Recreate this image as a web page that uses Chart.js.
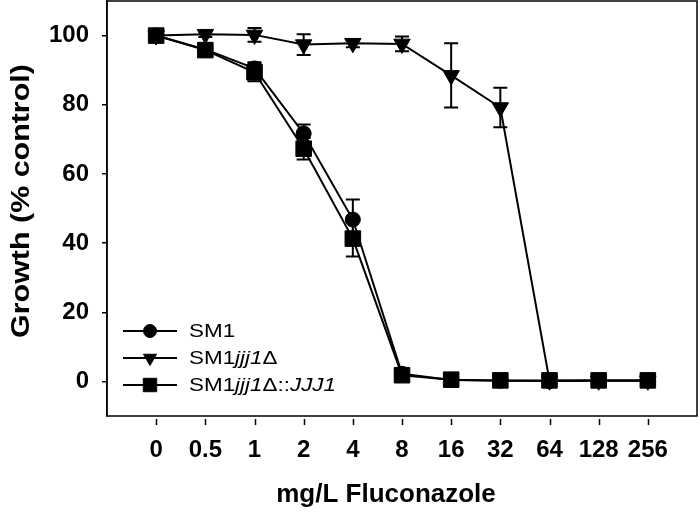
<!DOCTYPE html>
<html>
<head>
<meta charset="utf-8">
<script src="https://cdn.jsdelivr.net/npm/chart.js@4.4.1/dist/chart.umd.min.js"></script>
<style>
  body { margin: 0; background: #fff; }
  canvas { display: block; }
</style>
</head>
<body>
<canvas id="growthChart" width="700" height="516"></canvas>
<script>
// Fluconazole concentrations (mg/L), plotted at evenly spaced positions
const doses = ["0", "0.5", "1", "2", "4", "8", "16", "32", "64", "128", "256"];
const yTicks = [0, 20, 40, 60, 80, 100];

// Growth (% control)
const sm1 = [100, 96, 90.5, 71.7, 46.8, 2.2, 0.4, 0.2, 0.1, 0.3, 0.3];
const sm1Err = [0.6, 1, 1.8, 2.6, 5.8, 0, 0, 0, 0, 0, 0];
const jjj1 = [100, 100.4, 100.2, 97.4, 97.8, 97.6, 88.5, 79.2, 0.2, 0.2, 0.2];
const jjj1Err = [0, 0.8, 2, 3, 1.2, 2.1, 9.3, 5.7, 0, 0, 0];
const comp = [100, 95.8, 89.4, 67.3, 41.3, 1.8, 0.5, 0.3, 0.3, 0.3, 0.3];
const compErr = [0, 1, 2.6, 3.1, 5.2, 0, 0, 0, 0, 0, 0];

// legend names, <i>..</i> marks the italic gene names
const seriesNames = ["SM1", "SM1<i>jjj1</i>Δ", "SM1<i>jjj1</i>Δ::<i>JJJ1</i>"];
const xTitle = "mg/L Fluconazole";
const yTitle = "Growth (% control)";

const FONT = "'Liberation Sans', Arial, sans-serif";
const toPoints = arr => arr.map((v, i) => ({ x: i, y: v }));

/* error bars drawn through the scales */
const errorBars = {
  id: "errorBars",
  afterDatasetsDraw(chart) {
    const { ctx, scales: { x, y } } = chart;
    ctx.save();
    ctx.strokeStyle = "#000";
    ctx.lineWidth = 2;
    chart.data.datasets.forEach(ds => {
      (ds.errors || []).forEach((e, i) => {
        if (!e) return;
        const px = x.getPixelForValue(i);
        const top = y.getPixelForValue(ds.data[i].y + e);
        const bot = y.getPixelForValue(ds.data[i].y - e);
        ctx.beginPath();
        ctx.moveTo(px, top); ctx.lineTo(px, bot);
        ctx.moveTo(px - 7, top); ctx.lineTo(px + 7, top);
        ctx.moveTo(px - 7, bot); ctx.lineTo(px + 7, bot);
        ctx.stroke();
      });
    });
    ctx.restore();
  }
};

/* box round the plot, detached x tick marks, axis titles */
const frame = {
  id: "frame",
  afterDraw(chart) {
    const { ctx, chartArea: a, scales: { x } } = chart;
    ctx.save();
    ctx.strokeStyle = "#000";
    ctx.lineWidth = 1.5;
    ctx.strokeRect(a.left, a.top, a.right - a.left, a.bottom - a.top);
    ctx.beginPath();
    doses.forEach((d, i) => {
      const px = Math.round(x.getPixelForValue(i)) + 0.5;
      ctx.moveTo(px, a.bottom + 3);
      ctx.lineTo(px, a.bottom + 9);
    });
    ctx.stroke();

    ctx.fillStyle = "#000";
    ctx.textAlign = "center";
    ctx.textBaseline = "middle";
    ctx.font = "bold 26px " + FONT;
    ctx.fillText(xTitle, 386, 495);

    ctx.translate(22, 201);
    ctx.rotate(-Math.PI / 2);
    ctx.scale(1.17, 1);
    ctx.font = "bold 26px " + FONT;
    ctx.fillText(yTitle, 0, 0);
    ctx.restore();
  }
};

/* legend with italic parts */
const richLegend = {
  id: "richLegend",
  afterDraw(chart) {
    const { ctx } = chart;
    const rows = [331, 358, 385];
    const sizes = [6.5, 7.5, 9.5];
    ctx.save();
    chart.data.datasets.forEach((ds, k) => {
      const yy = rows[k];
      ctx.strokeStyle = "#000";
      ctx.fillStyle = "#000";
      ctx.lineWidth = 2;
      ctx.beginPath();
      ctx.moveTo(123, yy); ctx.lineTo(177, yy);
      ctx.stroke();
      ctx.lineWidth = 1;
      Chart.helpers.drawPoint(ctx, {
        pointStyle: ds.pointStyle, radius: sizes[k], rotation: ds.pointRotation || 0, borderWidth: 1
      }, 150, yy);
      ctx.save();
      ctx.translate(189, yy + 1);
      ctx.scale(1.18, 1);
      ctx.textBaseline = "middle";
      let tx = 0;
      seriesNames[k].split(/(<i>.*?<\/i>)/).filter(Boolean).forEach(part => {
        const it = part.startsWith("<i>");
        const txt = part.replace(/<\/?i>/g, "");
        ctx.font = (it ? "italic " : "") + "19px " + FONT;
        ctx.fillText(txt, tx, 0);
        tx += ctx.measureText(txt).width;
      });
      ctx.restore();
    });
    ctx.restore();
  }
};

const lineStyle = {
  borderColor: "#000",
  backgroundColor: "#000",
  pointBackgroundColor: "#000",
  pointBorderColor: "#000",
  borderWidth: 2,
  pointBorderWidth: 1,
  tension: 0
};

new Chart(document.getElementById("growthChart"), {
  type: "line",
  data: {
    datasets: [
      { ...lineStyle, label: seriesNames[0], data: toPoints(sm1), errors: sm1Err, pointStyle: "circle", pointRadius: 7.5 },
      { ...lineStyle, label: seriesNames[1], data: toPoints(jjj1), errors: jjj1Err, pointStyle: "triangle", pointRotation: 180, pointRadius: 9.5 },
      { ...lineStyle, label: seriesNames[2], data: toPoints(comp), errors: compErr, pointStyle: "rect", pointRadius: 11 }
    ]
  },
  options: {
    responsive: false,
    animation: false,
    layout: { autoPadding: false, padding: { top: 1, right: 3, left: 0, bottom: 0 } },
    plugins: { legend: { display: false }, tooltip: { enabled: false } },
    scales: {
      x: {
        type: "linear",
        min: -1,
        max: 11,
        afterBuildTicks: s => { s.ticks = doses.map((d, i) => ({ value: i })); },
        afterFit: s => { s.height = 100; s.paddingLeft = 0; s.paddingRight = 0; },
        grid: { display: false, drawTicks: false },
        border: { display: false },
        ticks: {
          callback: v => doses[v],
          padding: 20,
          maxRotation: 0,
          autoSkip: false,
          color: "#000",
          font: { family: FONT, size: 24, weight: "bold" }
        }
      },
      y: {
        min: -10,
        max: 110,
        afterBuildTicks: s => { s.ticks = yTicks.map(v => ({ value: v })); },
        afterFit: s => { s.width = 107; s.paddingTop = 0; s.paddingBottom = 0; },
        grid: { drawOnChartArea: false, color: "#000", lineWidth: 1.5, tickLength: 5 },
        border: { display: true, color: "#000", width: 1.5 },
        ticks: {
          padding: 13,
          color: "#000",
          font: { family: FONT, size: 24, weight: "bold" }
        }
      }
    }
  },
  plugins: [errorBars, frame, richLegend]
});
</script>
</body>
</html>
